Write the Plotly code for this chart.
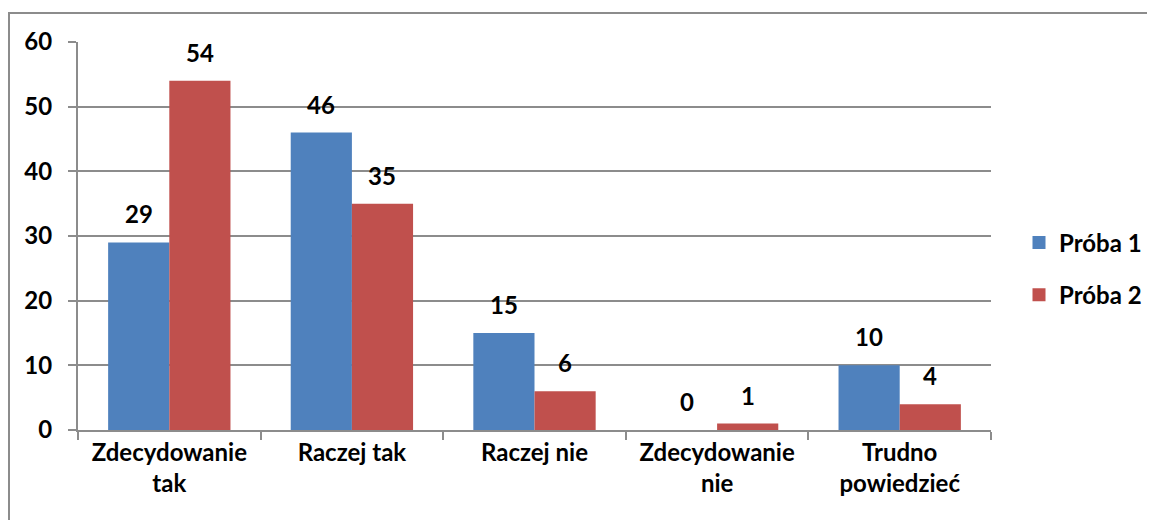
import plotly.graph_objects as go

categories = ["Zdecydowanie<br>tak", "Raczej tak", "Raczej nie", "Zdecydowanie<br>nie", "Trudno<br>powiedzieć"]
proba1 = [29, 46, 15, 0, 10]
proba2 = [54, 35, 6, 1, 4]
y_ticks = [0, 10, 20, 30, 40, 50, 60]

series = [("Próba 1", proba1, "#4F81BD", -30.5), ("Próba 2", proba2, "#C0504D", 30.5)]

font_family = "Lato, 'Open Sans', sans-serif"
font_weight = "bold"
font_size = 24
grey = "#8C8C8C"

# the page has an 8px body margin, so layout is in page coords minus 8
off = 8
fig_w, fig_h = 1155, 520
l, t, w, h = 78 - off, 42 - off, 913, 388

fig = go.Figure()
for name, vals, color, shift in series:
    fig.add_trace(go.Bar(
        x=categories, y=vals, name=name, showlegend=False,
        marker=dict(color=color, line=dict(width=0)),
    ))
    # legend entry with a square swatch
    fig.add_trace(go.Scatter(
        x=[None], y=[None], mode="markers", name=name, legendgroup=name,
        marker=dict(symbol="square", size=13, color=color),
    ))
    # value labels sitting a bit above the bars
    for cat, v in zip(categories, vals):
        fig.add_annotation(
            x=cat, y=v, text=str(v), showarrow=False,
            xshift=shift, yshift=12, yanchor="bottom",
            font=dict(size=font_size, color="black", family=font_family, weight=font_weight),
        )

# outer chart border: only its left and top edges are on screen
bx0 = (9 - off - l) / w
bx1 = (1300 - l) / w
by0 = (t + h - 600) / h
by1 = (t + h - (13 - off)) / h
fig.add_shape(
    type="path", xref="paper", yref="paper",
    path=f"M {bx0},{by0} L {bx0},{by1} L {bx1},{by1}",
    line=dict(color=grey, width=2),
)

fig.update_layout(
    width=fig_w, height=fig_h,
    margin=dict(l=l, r=fig_w - l - w, t=t, b=fig_h - t - h),
    paper_bgcolor="white", plot_bgcolor="white",
    barmode="group", bargap=0.33, bargroupgap=0,
    font=dict(family=font_family, size=font_size, color="black", weight=font_weight),
    legend=dict(
        x=(1019 - off - l) / w, y=(t + h - (269 - off)) / h, xanchor="left", yanchor="middle",
        font=dict(size=font_size, weight=font_weight), itemwidth=30,
        tracegroupgap=18,
    ),
    xaxis=dict(
        showline=True, linecolor=grey, linewidth=2,
        ticks="outside", tickson="boundaries", ticklen=8, tickcolor=grey, tickwidth=2,
        showgrid=False, tickfont=dict(size=font_size, weight=font_weight),
    ),
    yaxis=dict(
        range=[0, 60], tickvals=y_ticks,
        showline=True, linecolor=grey, linewidth=2,
        ticks="outside", ticklen=8, tickcolor=grey, tickwidth=2,
        showgrid=True, gridcolor=grey, gridwidth=2, zeroline=False,
        tickfont=dict(size=font_size, weight=font_weight), ticklabelstandoff=11,
    ),
)

fig.write_html("out.html")
